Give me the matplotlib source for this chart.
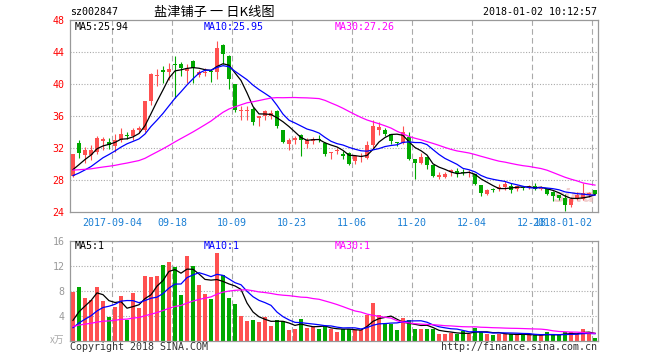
import matplotlib

matplotlib.use("Agg")
import matplotlib.pyplot as plt
import numpy as np
import pandas as pd

# daily K-line 2017-08-24 .. 2018-01-02 (88 sessions), price in yuan
opens = [28.5, 32.6, 31.1, 31.1, 31.5, 32.9, 32.8, 32.3, 33.0, 33.6,
         33.5, 34.2, 34.3, 37.9, 41.0, 41.8, 41.5, 42.55, 42.5, 41.6,
         42.9, 41.1, 41.4, 41.55, 41.5, 44.9, 43.5, 40.0, 36.6, 36.65,
         36.9, 35.8, 35.95, 36.05, 36.6, 34.3, 32.55, 32.95, 33.65, 32.55,
         32.9, 33.1, 32.6, 31.35, 31.6, 31.3, 31.4, 30.4, 30.9, 30.7,
         32.4, 34.3, 34.25, 33.7, 32.75, 32.6, 33.35, 30.6, 30.15, 30.9,
         29.9, 28.4, 28.4, 29.0, 29.15, 29.0, 28.9, 28.75, 27.35, 26.25,
         26.85, 26.85, 27.1, 27.25, 26.85, 27.1, 27.0, 27.25, 26.9, 26.9,
         26.5, 26.15, 25.75, 24.9, 25.65, 25.6, 26.1, 26.75]
highs = [31.3, 33.0, 32.1, 32.4, 33.5, 33.4, 33.2, 33.8, 34.5, 34.0,
         34.5, 34.8, 37.9, 41.4, 41.9, 42.3, 42.6, 43.5, 42.7, 42.5,
         43.05, 41.7, 42.0, 41.8, 45.4, 45.0, 43.6, 40.0, 37.3, 37.3,
         37.1, 36.0, 36.8, 36.75, 36.7, 34.3, 33.2, 33.5, 33.75, 33.2,
         33.4, 33.65, 32.8, 31.55, 31.95, 31.6, 31.45, 30.95, 31.35, 32.9,
         35.5, 35.3, 34.5, 33.8, 32.75, 34.75, 34.0, 30.6, 31.4, 30.9,
         29.9, 29.0, 29.0, 29.4, 29.5, 29.4, 29.25, 28.75, 27.4, 26.85,
         27.0, 27.5, 27.85, 27.6, 27.4, 27.25, 27.35, 27.6, 27.25, 26.9,
         26.6, 26.15, 26.25, 25.9, 26.5, 27.6, 26.5, 26.8]
lows = [28.4, 30.7, 30.1, 30.5, 31.3, 31.8, 31.9, 31.5, 32.8, 33.1,
        33.0, 33.9, 34.0, 37.4, 39.7, 40.1, 40.5, 38.3, 41.0, 40.1,
        40.1, 40.9, 41.0, 40.2, 40.6, 42.5, 39.4, 36.5, 35.5, 35.5,
        34.9, 34.8, 35.5, 35.6, 34.5, 32.6, 31.8, 32.55, 30.95, 31.95,
        32.45, 32.8, 31.05, 30.6, 31.2, 30.6, 29.85, 29.95, 30.2, 30.6,
        32.05, 33.65, 33.5, 32.5, 32.2, 32.5, 30.5, 28.15, 30.0, 29.4,
        28.4, 28.15, 28.3, 28.5, 28.4, 28.6, 28.4, 27.35, 26.0, 26.15,
        26.5, 26.6, 26.75, 26.4, 26.6, 26.75, 26.85, 26.75, 26.7, 26.15,
        25.4, 25.5, 24.15, 24.65, 25.5, 25.5, 25.9, 26.2]
closes = [31.3, 31.4, 31.8, 31.8, 33.2, 33.1, 32.4, 33.0, 33.8, 33.45,
          34.3, 34.5, 37.9, 41.3, 41.1, 41.5, 41.9, 42.4, 41.95, 42.0,
          42.0, 41.5, 41.5, 41.45, 44.5, 43.7, 40.6, 36.7, 36.7, 36.75,
          35.2, 35.95, 36.65, 36.4, 34.7, 32.7, 32.95, 33.25, 32.95, 32.95,
          33.1, 33.05, 31.2, 31.55, 31.75, 30.95, 30.05, 30.95, 31.0, 32.4,
          34.75, 34.65, 33.75, 32.9, 32.6, 34.0, 30.65, 30.15, 30.9, 29.9,
          28.5, 28.6, 28.75, 29.25, 28.9, 28.9, 29.0, 27.5, 26.4, 26.8,
          26.8, 27.15, 27.5, 26.75, 27.25, 27.0, 27.25, 26.9, 27.1, 26.25,
          26.0, 25.75, 24.9, 25.65, 26.15, 26.4, 26.4, 26.3]
# volume, 10k shares
volumes = [7.84, 8.64, 6.88, 6.5, 8.64, 6.4, 3.84, 5.44, 7.15, 3.41,
           7.68, 5.33, 10.35, 10.19, 10.35, 12.16, 12.64, 11.79, 7.31, 13.6,
           12.0, 8.9, 7.47, 6.72, 14.08, 10.5, 6.88, 5.87, 3.95, 3.2,
           3.31, 3.04, 3.84, 2.35, 3.31, 3.2, 1.7, 1.92, 3.47, 2.08,
           2.24, 1.87, 2.35, 1.97, 1.39, 1.92, 1.92, 1.81, 1.7, 4.21,
           6.08, 4.1, 2.77, 2.77, 1.7, 3.68, 3.31, 1.87, 1.87, 1.87,
           1.87, 1.07, 1.07, 1.28, 1.17, 1.55, 1.07, 2.08, 1.44, 1.17,
           0.9, 1.17, 1.17, 1.07, 0.9, 1.07, 0.9, 0.9, 0.9, 1.39,
           0.9, 0.9, 1.39, 1.39, 1.17, 1.97, 1.17, 0.43]
# sessions before the window, only feed the moving averages
pre_close = [29.9, 30.2, 30.0, 29.7, 29.8, 29.5, 29.6, 29.3, 29.4, 29.6,
             29.8, 29.5, 29.2, 29.4, 29.6, 29.3, 29.1, 29.4, 29.7, 29.5,
             28.2, 27.9, 27.6, 27.7, 27.6, 28.3, 28.6, 29.0, 29.3]
pre_vol = [2.6, 2.3, 2.5, 2.8, 2.4, 2.2, 2.6, 2.5, 2.3, 2.7,
           2.4, 2.2, 2.5, 2.6, 2.3, 2.4, 2.6, 2.5, 2.3, 2.3,
           1.1, 0.9, 1.0, 0.9, 0.9, 1.8, 2.3, 2.1, 2.5]

tick_idx = [7, 17, 27, 37, 47, 57, 67, 77, 87]
tick_lbl = ["2017-09-04", "09-18", "10-09", "10-23", "11-06", "11-20",
            "12-04", "12-18", "2018-01-02"]

RED, GREEN = "#ff5050", "#00a800"
GRID = "#aaaaaa"
MONO = "DejaVu Sans Mono"
CJK = ["Noto Sans CJK SC", "DejaVu Sans"]
W, H = 660, 360


def box(l, t, r, b):
    return [l / W, 1 - b / H, (r - l) / W, (b - t) / H]


def px_text(x, y, s, **kw):
    kw.setdefault("family", MONO)
    kw.setdefault("fontsize", 7.2)
    fig.text(x / W, 1 - y / H, s, va="center", **kw)


o, h, l, c = map(np.array, (opens, highs, lows, closes))
v = np.array(volumes)
n = len(c)
x = np.arange(n)
up = c >= o
col = np.where(up, RED, GREEN)

cs = pd.Series(pre_close + closes)
vs = pd.Series(pre_vol + volumes)
k = len(pre_close)
ma = {p: cs.rolling(p).mean().values[k:] for p in (5, 10, 30)}
vma = {p: vs.rolling(p).mean().values[k:] for p in (5, 10, 30)}
ma_col = {5: "black", 10: "#0000ff", 30: "#ff00ff"}

fig = plt.figure(figsize=(6.6, 3.6), dpi=100)
ax = fig.add_axes(box(70, 20, 598, 212))
axv = fig.add_axes(box(70, 241, 598, 341))

for a in (ax, axv):
    a.set_xlim(-0.5, n - 0.5)
    for s in a.spines.values():
        s.set_color("#999999")
        s.set_linewidth(0.9)
    for t in tick_idx:
        a.axvline(t - 0.5, color=GRID, lw=0.8, ls=(0, (5, 3)), zorder=0)
    a.tick_params(length=0, labelsize=7.2)

# faint site watermark in the corner of the price panel
ax.text(0.995, 0.03, "sina", transform=ax.transAxes, ha="right", va="bottom",
        fontsize=13, fontweight="bold", style="italic", color="#e8b0b0",
        alpha=0.6, zorder=1)

# price candles
ax.vlines(x, l, h, colors=col, lw=0.8, zorder=2)
body = np.maximum(np.abs(c - o), 0.13)
ax.bar(x, body, bottom=np.minimum(o, c), width=0.8, color=col, lw=0, zorder=3)
for p in (5, 10, 30):
    ax.plot(x, ma[p], color=ma_col[p], lw=0.9, zorder=4)
ax.set_ylim(24, 48)
for yv in range(28, 48, 4):
    ax.axhline(yv, color=GRID, lw=0.8, ls=(0, (1, 1.5)), zorder=0)
ax.set_yticks(range(24, 49, 4))
ax.set_yticklabels([str(t) for t in range(24, 49, 4)], family=MONO, color="#ff0000")
ax.set_xticks([t - 0.5 for t in tick_idx])
ax.set_xticklabels(tick_lbl, family=MONO, color="#1a7fd4")
ax.tick_params(axis="x", pad=4)
ax.tick_params(axis="y", pad=4)
ax.get_xticklabels()[-1].set_ha("right")

# volume bars
axv.bar(x, v, width=0.83, color=col, lw=0, zorder=2)
for p in (5, 10, 30):
    axv.plot(x, vma[p], color=ma_col[p], lw=0.9, zorder=4)
axv.set_ylim(0, 16)
for yv in (4, 8, 12):
    axv.axhline(yv, color=GRID, lw=0.8, ls=(0, (1, 1.5)), zorder=0)
axv.set_yticks([4, 8, 12, 16])
axv.set_yticklabels(["4", "8", "12", "16"], family=MONO, color="#999999")
axv.tick_params(axis="y", pad=4)
axv.set_xticks([])

# header texts
px_text(70, 12, "sz002847")
px_text(214, 12, "盐津铺子 一 日K线图", family=CJK, fontsize=9.5, ha="center")
px_text(597, 12, "2018-01-02 10:12:57", ha="right")
px_text(75, 27, "MA5:25.94")
px_text(204, 27, "MA10:25.95", color="#0000ff")
px_text(335, 27, "MA30:27.26", color="#ff00ff")
px_text(75, 246, "MA5:1")
px_text(204, 246, "MA10:1", color="#0000ff")
px_text(335, 246, "MA30:1", color="#ff00ff")
px_text(50, 340, "x万", family=CJK, fontsize=7, color="#aaaaaa")
px_text(70, 347, "Copyright 2018 SINA.COM", color="#333333")
px_text(597, 347, "http://finance.sina.com.cn", color="#333333", ha="right")

fig.savefig("out.png", dpi=100)
